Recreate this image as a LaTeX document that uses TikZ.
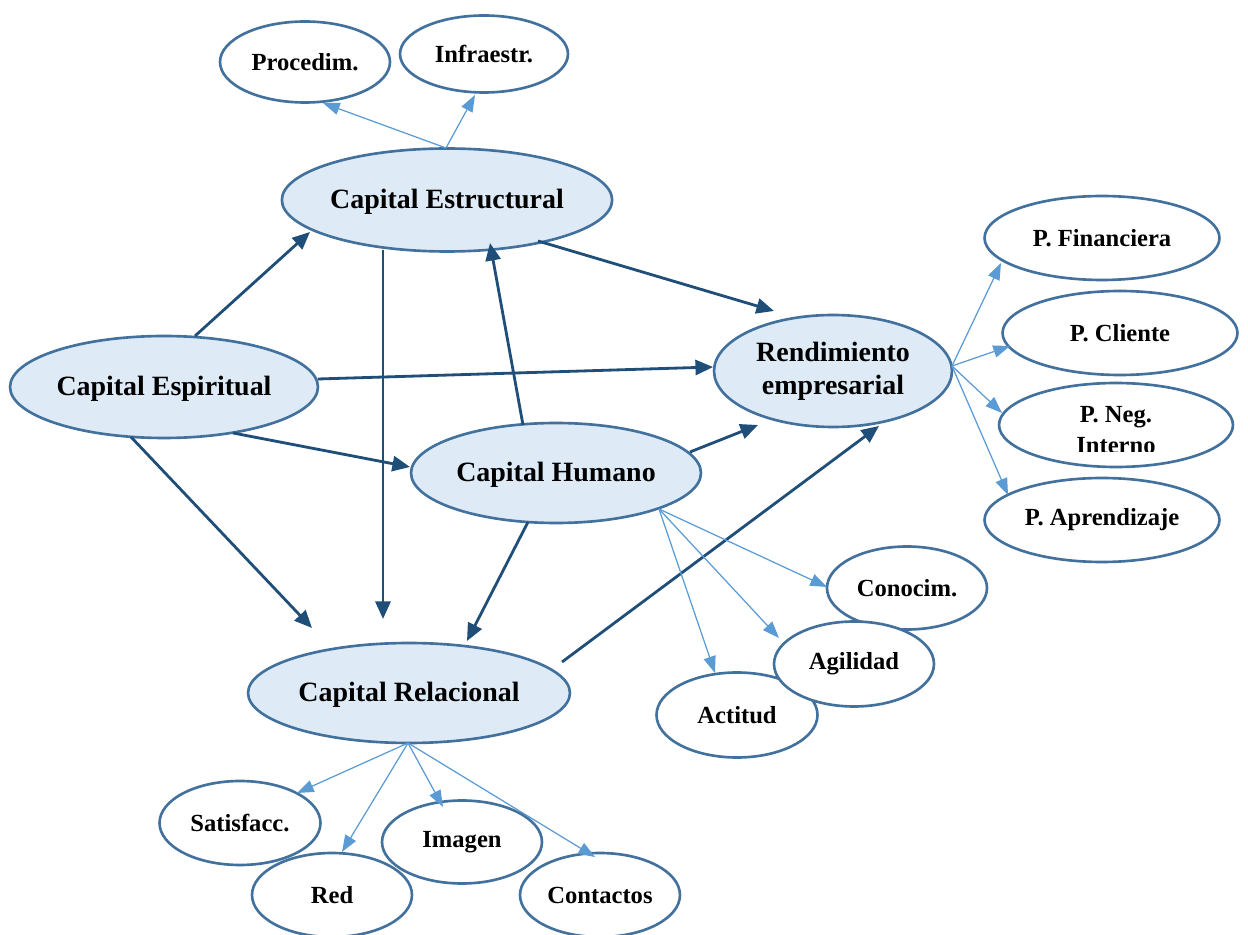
\documentclass[tikz,border=0pt]{standalone}
\usepackage{fontspec}
\setmainfont{Liberation Serif}
\usetikzlibrary{shapes.geometric,arrows.meta}
\definecolor{edgeblue}{HTML}{41719C}
\definecolor{fillblue}{HTML}{DEEBF7}
\definecolor{darkarr}{HTML}{1F4E79}
\definecolor{lightarr}{HTML}{5B9BD5}
\tikzset{
  ell/.style={ellipse, draw=edgeblue, line width=1.5pt, inner sep=0pt, align=center},
  mainell/.style={ell, fill=fillblue, font=\fontsize{15.9}{18.7}\selectfont\bfseries},
  mainone/.style={mainell, text height=13.4pt, text depth=3.4pt},
  subell/.style={ell, fill=white, font=\fontsize{14}{17.3}\selectfont\bfseries},
  darrow/.style={draw=darkarr, line width=1.6pt, -{Triangle[length=10pt,width=8.6pt]}},
  larrow/.style={draw=lightarr, line width=0.7pt, -{Triangle[length=9.5pt,width=7pt]}}
}
\begin{document}
\begin{tikzpicture}[x=0.02cm,y=-0.02cm]
\fill[white] (0,0) rectangle (1248,935);
\useasboundingbox (0,0) rectangle (1248,935);

% main nodes
\node[mainone, minimum width=6.54cm, minimum height=2.06cm] (estr) at (447,200) {Capital Estructural};
\node[mainone, minimum width=6.16cm, minimum height=2.04cm] (esp) at (164,387) {Capital Espiritual};
\node[mainell, minimum width=4.76cm, minimum height=2.24cm] (rend) at (833,371) {Rendimiento\\empresarial};
\node[mainone, minimum width=5.80cm, minimum height=2.00cm] (hum) at (556,473) {Capital Humano};
\node[mainone, minimum width=6.44cm, minimum height=2.00cm] (rel) at (409,693) {Capital Relacional};

% sub nodes
\node[subell, minimum width=3.40cm, minimum height=1.62cm] (proc) at (305,62) {Procedim.};
\node[subell, minimum width=3.36cm, minimum height=1.54cm] (infra) at (484,54) {Infraestr.};
\node[subell, minimum width=4.70cm, minimum height=1.68cm] (pfin) at (1102,238) {P. Financiera};
\node[subell, minimum width=4.70cm, minimum height=1.68cm] (pcli) at (1120,333) {P. Cliente};
\node[subell, minimum width=4.68cm, minimum height=1.68cm] (pneg) at (1116,425) {};
\begin{scope}
  \clip (990,380) rectangle (1240,452);
  \node[font=\fontsize{14}{17.3}\selectfont\bfseries, align=center, inner sep=0pt] (pnegtext) at (1116,430) {P. Neg.\\Interno};
\end{scope}
\node[subell, minimum width=4.70cm, minimum height=1.68cm] (papr) at (1102,520) {P. Aprendizaje};
\node[subell, minimum width=3.22cm, minimum height=1.70cm] (actit) at (737,715) {Actitud};
\node[subell, minimum width=3.20cm, minimum height=1.66cm] (conoc) at (907,588) {Conocim.};
\node[subell, minimum width=3.20cm, minimum height=1.70cm] (agil) at (854,664) {Agilidad};
\node[subell, minimum width=3.22cm, minimum height=1.68cm] (satis) at (240,823) {Satisfacc.};
\node[subell, minimum width=3.20cm, minimum height=1.68cm] (red) at (332,895) {Red};
\node[subell, minimum width=3.20cm, minimum height=1.66cm] (imag) at (462,842) {Imagen};
\node[subell, minimum width=3.20cm, minimum height=1.68cm] (cont) at (600,895) {Contactos};

% connector end points
\coordinate (espA) at (195,336);   \coordinate (estrIn) at (310,232);
\coordinate (espB) at (318,379);   \coordinate (rendInA) at (713,367);
\coordinate (espC) at (233,433);   \coordinate (humIn) at (410,467);
\coordinate (espD) at (131,437);   \coordinate (relInA) at (312,628);
\coordinate (estrA) at (383,250);  \coordinate (relInB) at (383,619);
\coordinate (estrB) at (538,241);  \coordinate (rendInB) at (774,311);
\coordinate (humA) at (523,425);   \coordinate (estrInB) at (490,243);
\coordinate (humB) at (690,452);   \coordinate (rendInC) at (758,425);
\coordinate (humC) at (528,522);   \coordinate (relInC) at (467,641);
\coordinate (relA) at (562,662);   \coordinate (rendInD) at (879,426);

\coordinate (estrTop) at (446,148);
\coordinate (procIn) at (323,103);
\coordinate (infraIn) at (475,95);
\coordinate (rendR) at (952,366);
\coordinate (pfinIn) at (1001,263);
\coordinate (pcliIn) at (1010,346);
\coordinate (pnegIn) at (1002,413);
\coordinate (paprIn) at (1008,495);
\coordinate (humR) at (659,509);
\coordinate (conocIn) at (827,587);
\coordinate (agilIn) at (779,638);
\coordinate (actitIn) at (715,673);
\coordinate (relB) at (408,743);
\coordinate (satisIn) at (297,793);
\coordinate (redIn) at (342,852);
\coordinate (imagIn) at (443,807);
\coordinate (contIn) at (595,857);

% dark connectors
\draw[darrow] (espA) -- (estrIn);
\draw[darrow] (espB) -- (rendInA);
\draw[darrow] (espC) -- (humIn);
\draw[darrow] (espD) -- (relInA);
\draw[darrow] (estrA) -- (relInB);
\draw[darrow] (estrB) -- (rendInB);
\draw[darrow] (humA) -- (estrInB);
\draw[darrow] (humB) -- (rendInC);
\draw[darrow] (humC) -- (relInC);
\draw[darrow] (relA) -- (rendInD);

% light connectors
\draw[larrow] (estrTop) -- (procIn);
\draw[larrow] (estrTop) -- (infraIn);
\draw[larrow] (rendR) -- (pfinIn);
\draw[larrow] (rendR) -- (pcliIn);
\draw[larrow] (rendR) -- (pnegIn);
\draw[larrow] (rendR) -- (paprIn);
\draw[larrow] (humR) -- (conocIn);
\draw[larrow] (humR) -- (agilIn);
\draw[larrow] (humR) -- (actitIn);
\draw[larrow] (relB) -- (satisIn);
\draw[larrow] (relB) -- (redIn);
\draw[larrow] (relB) -- (imagIn);
\draw[larrow] (relB) -- (contIn);
\end{tikzpicture}
\end{document}
